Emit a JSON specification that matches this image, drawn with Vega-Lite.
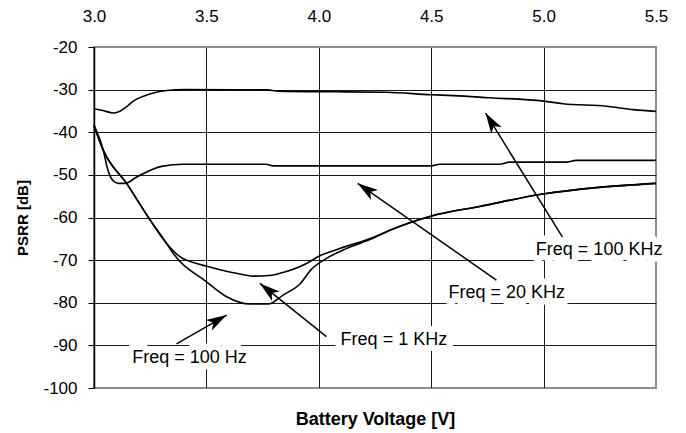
{
  "$schema": "https://vega.github.io/schema/vega-lite/v6.json",
  "width": 562,
  "height": 341,
  "autosize": {"type": "none"},
  "padding": {"left": 94, "top": 47, "right": 30, "bottom": 45},
  "background": "white",
  "config": {
    "font": "Liberation Sans",
    "view": {"stroke": "#8c8c8c", "strokeWidth": 2},
    "axis": {"labelFont": "Liberation Sans", "titleFont": "Liberation Sans", "labelColor": "#000", "titleColor": "#000"}
  },
  "datasets": {
    "curves": [
      {"series": "100 KHz", "v": 3.0, "psrr": -34.5},
      {"series": "100 KHz", "v": 3.04, "psrr": -34.9},
      {"series": "100 KHz", "v": 3.086, "psrr": -35.5},
      {"series": "100 KHz", "v": 3.11, "psrr": -35.2},
      {"series": "100 KHz", "v": 3.142, "psrr": -34.1},
      {"series": "100 KHz", "v": 3.175, "psrr": -32.7},
      {"series": "100 KHz", "v": 3.249, "psrr": -31.0},
      {"series": "100 KHz", "v": 3.323, "psrr": -30.2},
      {"series": "100 KHz", "v": 3.4, "psrr": -30.0},
      {"series": "100 KHz", "v": 3.77, "psrr": -30.05},
      {"series": "100 KHz", "v": 3.82, "psrr": -30.35},
      {"series": "100 KHz", "v": 4.08, "psrr": -30.5},
      {"series": "100 KHz", "v": 4.3, "psrr": -30.6},
      {"series": "100 KHz", "v": 4.5, "psrr": -31.2},
      {"series": "100 KHz", "v": 4.6, "psrr": -31.4},
      {"series": "100 KHz", "v": 4.76, "psrr": -31.9},
      {"series": "100 KHz", "v": 5.0, "psrr": -32.7},
      {"series": "100 KHz", "v": 5.086, "psrr": -33.3},
      {"series": "100 KHz", "v": 5.28, "psrr": -33.9},
      {"series": "100 KHz", "v": 5.4, "psrr": -34.7},
      {"series": "100 KHz", "v": 5.5, "psrr": -35.1},

      {"series": "20 KHz", "v": 3.0, "psrr": -38.4},
      {"series": "20 KHz", "v": 3.041, "psrr": -44.2},
      {"series": "20 KHz", "v": 3.062, "psrr": -48.9},
      {"series": "20 KHz", "v": 3.084, "psrr": -51.3},
      {"series": "20 KHz", "v": 3.108, "psrr": -52.0},
      {"series": "20 KHz", "v": 3.138, "psrr": -52.0},
      {"series": "20 KHz", "v": 3.19, "psrr": -50.5},
      {"series": "20 KHz", "v": 3.301, "psrr": -48.0},
      {"series": "20 KHz", "v": 3.397, "psrr": -47.5},
      {"series": "20 KHz", "v": 3.764, "psrr": -47.5},
      {"series": "20 KHz", "v": 3.797, "psrr": -47.9},
      {"series": "20 KHz", "v": 4.5, "psrr": -47.9},
      {"series": "20 KHz", "v": 4.538, "psrr": -47.5},
      {"series": "20 KHz", "v": 4.804, "psrr": -47.5},
      {"series": "20 KHz", "v": 4.849, "psrr": -47.0},
      {"series": "20 KHz", "v": 5.101, "psrr": -47.0},
      {"series": "20 KHz", "v": 5.145, "psrr": -46.6},
      {"series": "20 KHz", "v": 5.5, "psrr": -46.6},

      {"series": "1 KHz", "v": 3.0, "psrr": -38.4},
      {"series": "1 KHz", "v": 3.041, "psrr": -44.2},
      {"series": "1 KHz", "v": 3.145, "psrr": -52.0},
      {"series": "1 KHz", "v": 3.241, "psrr": -59.9},
      {"series": "1 KHz", "v": 3.323, "psrr": -66.1},
      {"series": "1 KHz", "v": 3.382, "psrr": -69.2},
      {"series": "1 KHz", "v": 3.456, "psrr": -70.8},
      {"series": "1 KHz", "v": 3.5, "psrr": -71.4},
      {"series": "1 KHz", "v": 3.634, "psrr": -73.1},
      {"series": "1 KHz", "v": 3.708, "psrr": -73.75},
      {"series": "1 KHz", "v": 3.78, "psrr": -73.6},
      {"series": "1 KHz", "v": 3.827, "psrr": -73.1},
      {"series": "1 KHz", "v": 3.945, "psrr": -70.8},
      {"series": "1 KHz", "v": 4.0, "psrr": -69.1},
      {"series": "1 KHz", "v": 4.093, "psrr": -67.3},
      {"series": "1 KHz", "v": 4.241, "psrr": -64.7},
      {"series": "1 KHz", "v": 4.316, "psrr": -63.0},
      {"series": "1 KHz", "v": 4.498, "psrr": -59.7},
      {"series": "1 KHz", "v": 4.716, "psrr": -57.4},
      {"series": "1 KHz", "v": 4.997, "psrr": -54.5},
      {"series": "1 KHz", "v": 5.234, "psrr": -53.0},
      {"series": "1 KHz", "v": 5.5, "psrr": -52.0},

      {"series": "100 Hz", "v": 3.0, "psrr": -38.4},
      {"series": "100 Hz", "v": 3.041, "psrr": -44.2},
      {"series": "100 Hz", "v": 3.145, "psrr": -52.0},
      {"series": "100 Hz", "v": 3.241, "psrr": -59.9},
      {"series": "100 Hz", "v": 3.323, "psrr": -66.1},
      {"series": "100 Hz", "v": 3.352, "psrr": -68.4},
      {"series": "100 Hz", "v": 3.501, "psrr": -75.1},
      {"series": "100 Hz", "v": 3.59, "psrr": -78.6},
      {"series": "100 Hz", "v": 3.693, "psrr": -80.3},
      {"series": "100 Hz", "v": 3.775, "psrr": -80.3},
      {"series": "100 Hz", "v": 3.841, "psrr": -78.2},
      {"series": "100 Hz", "v": 3.916, "psrr": -75.6},
      {"series": "100 Hz", "v": 3.968, "psrr": -72.1},
      {"series": "100 Hz", "v": 4.034, "psrr": -69.6},
      {"series": "100 Hz", "v": 4.123, "psrr": -67.3},
      {"series": "100 Hz", "v": 4.241, "psrr": -64.9},
      {"series": "100 Hz", "v": 4.316, "psrr": -63.0},
      {"series": "100 Hz", "v": 4.498, "psrr": -59.7},
      {"series": "100 Hz", "v": 4.716, "psrr": -57.4},
      {"series": "100 Hz", "v": 4.997, "psrr": -54.5},
      {"series": "100 Hz", "v": 5.234, "psrr": -53.0},
      {"series": "100 Hz", "v": 5.5, "psrr": -52.0}
    ],
    "arrows": [
      {"name": "100 Hz", "v": 3.367, "psrr": -89.67, "v2": 3.59, "psrr2": -82.88},
      {"name": "1 KHz", "v": 4.034, "psrr": -87.96, "v2": 3.738, "psrr2": -75.46},
      {"name": "20 KHz", "v": 4.79, "psrr": -74.68, "v2": 4.173, "psrr2": -51.97},
      {"name": "100 KHz", "v": 5.084, "psrr": -64.6, "v2": 4.742, "psrr2": -35.5}
    ],
    "labels": [
      {"label": "Freq = 100 Hz", "v": 3.425, "psrr": -92.95},
      {"label": "Freq = 1 KHz", "v": 4.334, "psrr": -88.66},
      {"label": "Freq = 20 KHz", "v": 4.836, "psrr": -77.6},
      {"label": "Freq = 100 KHz", "v": 5.247, "psrr": -67.73}
    ]
  },
  "resolve": {"axis": {"x": "independent"}},
  "layer": [
    {
      "data": {"name": "curves"},
      "mark": {"type": "line", "color": "#000", "strokeWidth": 1.6, "interpolate": "monotone"},
      "encoding": {
        "x": {
          "field": "v", "type": "quantitative",
          "scale": {"domain": [3, 5.5], "nice": false, "zero": false},
          "axis": {
            "orient": "top", "title": null, "values": [3, 3.5, 4, 4.5, 5, 5.5],
            "labelExpr": "format(datum.value, '.1f')",
            "labelFontSize": 17, "labelPadding": 22, "ticks": false, "domain": false,
            "grid": true, "gridWidth": 1,
            "gridColor": {"condition": {"test": "datum.value == 5.5", "value": "#8c8c8c"}, "value": "#1a1a1a"},
            "labelFlush": false
          }
        },
        "y": {
          "field": "psrr", "type": "quantitative",
          "scale": {"domain": [-100, -20], "nice": false, "zero": false},
          "axis": {
            "title": "PSRR [dB]", "titleFontSize": 15, "titleFontWeight": "bold", "titlePadding": 12,
            "values": [-100, -90, -80, -70, -60, -50, -40, -30, -20],
            "labelExpr": "'' + datum.value",
            "labelFontSize": 17, "labelPadding": 11, "tickSize": 6, "tickColor": "#000", "tickWidth": 1,
            "domain": true, "domainColor": "#000", "domainWidth": 1.5,
            "grid": true, "gridWidth": 1,
            "gridColor": {"condition": {"test": "datum.value == -20 || datum.value == -100", "value": "#8c8c8c"}, "value": "#1a1a1a"},
            "labelFlush": false
          }
        },
        "detail": {"field": "series", "type": "nominal"}
      }
    },
    {
      "data": {"name": "arrows"},
      "mark": {"type": "rule", "color": "#000", "strokeWidth": 1.5},
      "encoding": {
        "x": {
          "field": "v", "type": "quantitative",
          "axis": {
            "orient": "bottom", "title": "Battery Voltage [V]", "titleFontSize": 18, "titleFontWeight": "bold",
            "labels": false, "ticks": false, "domain": false, "grid": false, "titlePadding": 22
          }
        },
        "y": {"field": "psrr", "type": "quantitative"},
        "x2": {"field": "v2"},
        "y2": {"field": "psrr2"}
      }
    },
    {
      "data": {"name": "arrows"},
      "transform": [{"filter": "datum.name == '100 Hz'"}],
      "mark": {"type": "point", "shape": "M0,0L-0.6,2L0,1.5L0.6,2Z", "filled": true, "color": "#000", "opacity": 1, "size": 420, "angle": 60},
      "encoding": {
        "x": {"field": "v2", "type": "quantitative", "axis": null},
        "y": {"field": "psrr2", "type": "quantitative"}
      }
    },
    {
      "data": {"name": "arrows"},
      "transform": [{"filter": "datum.name == '1 KHz'"}],
      "mark": {"type": "point", "shape": "M0,0L-0.6,2L0,1.5L0.6,2Z", "filled": true, "color": "#000", "opacity": 1, "size": 420, "angle": 308.7},
      "encoding": {
        "x": {"field": "v2", "type": "quantitative", "axis": null},
        "y": {"field": "psrr2", "type": "quantitative"}
      }
    },
    {
      "data": {"name": "arrows"},
      "transform": [{"filter": "datum.name == '20 KHz'"}],
      "mark": {"type": "point", "shape": "M0,0L-0.6,2L0,1.5L0.6,2Z", "filled": true, "color": "#000", "opacity": 1, "size": 420, "angle": 305},
      "encoding": {
        "x": {"field": "v2", "type": "quantitative", "axis": null},
        "y": {"field": "psrr2", "type": "quantitative"}
      }
    },
    {
      "data": {"name": "arrows"},
      "transform": [{"filter": "datum.name == '100 KHz'"}],
      "mark": {"type": "point", "shape": "M0,0L-0.6,2L0,1.5L0.6,2Z", "filled": true, "color": "#000", "opacity": 1, "size": 420, "angle": 328},
      "encoding": {
        "x": {"field": "v2", "type": "quantitative", "axis": null},
        "y": {"field": "psrr2", "type": "quantitative"}
      }
    },
    {
      "data": {"name": "labels"},
      "mark": {"type": "text", "fontSize": 18, "font": "Liberation Sans", "align": "center", "baseline": "middle",
               "fill": "white", "stroke": "white", "strokeWidth": 13, "strokeJoin": "round"},
      "encoding": {
        "x": {"field": "v", "type": "quantitative", "axis": null},
        "y": {"field": "psrr", "type": "quantitative"},
        "text": {"field": "label"}
      }
    },
    {
      "data": {"name": "labels"},
      "mark": {"type": "text", "fontSize": 18, "font": "Liberation Sans", "align": "center", "baseline": "middle", "color": "#000"},
      "encoding": {
        "x": {"field": "v", "type": "quantitative", "axis": null},
        "y": {"field": "psrr", "type": "quantitative"},
        "text": {"field": "label"}
      }
    }
  ]
}
